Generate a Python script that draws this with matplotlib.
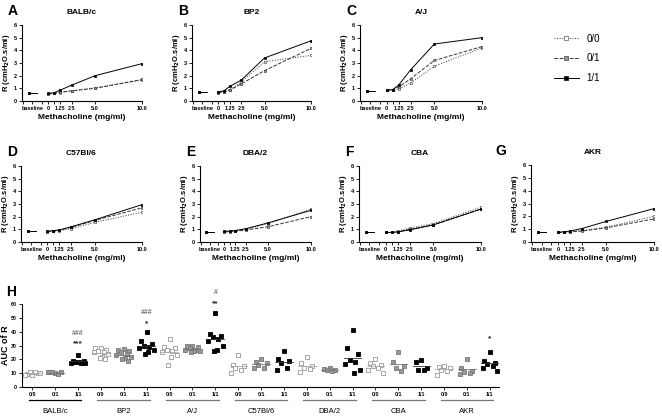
import matplotlib
matplotlib.use('Agg')
import matplotlib.pyplot as plt
import numpy as np

plt.rcParams['font.family'] = ['Liberation Sans', 'DejaVu Sans']
plt.rcParams['font.weight'] = 'bold'
plt.rcParams['axes.linewidth'] = 0.8

W, H = 662, 417

# dose-response data
doses = [0, 0.625, 1.25, 2.5, 5.0, 10.0]
dose_ticks = [0, 1.25, 2.5, 5.0, 10.0]
dose_labels = ['0', '1.25', '2.5', '5.0', '10.0']
strains = ['BALB/c', 'BP2', 'A/J', 'C57Bl/6', 'DBA/2', 'CBA', 'AKR']
letters = ['A', 'B', 'C', 'D', 'E', 'F', 'G']
groups = ['0/0', '0/1', '1/1']

baseline_r = [0.6, 0.7, 0.8, 0.85, 0.8, 0.8, 0.75]
r_00 = [[0.55, 0.6, 0.65, 0.8, 1.05, 1.65],
        [0.7, 0.75, 0.9, 1.5, 3.1, 3.6],
        [0.85, 0.85, 0.95, 1.4, 2.75, 4.2],
        [0.8, 0.85, 0.9, 1.05, 1.55, 2.35],
        [0.8, 0.85, 0.9, 1.0, 1.45, 2.6],
        [0.75, 0.8, 0.85, 1.1, 1.45, 2.75],
        [0.75, 0.75, 0.8, 0.9, 1.15, 2.0]]
r_01 = [[0.55, 0.6, 0.7, 0.8, 1.0, 1.7],
        [0.65, 0.7, 0.85, 1.35, 2.4, 4.15],
        [0.85, 0.9, 1.1, 1.75, 3.2, 4.3],
        [0.8, 0.85, 0.95, 1.15, 1.7, 2.7],
        [0.8, 0.8, 0.85, 0.95, 1.2, 2.0],
        [0.75, 0.75, 0.8, 1.0, 1.35, 2.6],
        [0.75, 0.75, 0.8, 0.85, 1.1, 1.8]]
r_11 = [[0.6, 0.65, 0.85, 1.25, 2.0, 2.95],
        [0.7, 0.8, 1.15, 1.65, 3.4, 4.75],
        [0.85, 0.9, 1.25, 2.45, 4.5, 5.0],
        [0.85, 0.9, 0.95, 1.2, 1.75, 2.95],
        [0.85, 0.85, 0.9, 1.05, 1.5, 2.5],
        [0.75, 0.75, 0.8, 0.95, 1.35, 2.6],
        [0.75, 0.8, 0.85, 1.05, 1.6, 2.6]]

# AUC data per strain
auc_00 = [[9, 9.5, 10, 10.5, 11, 9, 10],
          [28.5, 28, 27, 26, 25, 25, 24, 22, 21, 20.5],
          [34.5, 29, 28, 27, 26, 25, 23, 22, 16],
          [23, 16, 15, 14, 12, 10],
          [22, 17, 15, 14, 13, 11],
          [20, 17.5, 16, 15, 14, 12, 10],
          [15.5, 14.5, 13.5, 12.5, 11.5, 9]]
auc_01 = [[10, 10.5, 11, 11, 9.5, 10.5],
          [27.5, 27, 26, 25, 24, 23, 22, 21, 20, 19],
          [30, 30, 29, 28, 27, 27, 26, 26, 25.5],
          [20, 18, 17, 16, 14, 14],
          [13.5, 13, 12.5, 12, 11.5],
          [25.3, 18.2, 15, 13.4, 11.4],
          [20.4, 13.8, 11.4, 10.7, 10.2, 9.7]]
auc_11 = [[23, 19, 18.5, 18, 17.5, 17, 17.5, 18],
          [39.5, 33, 31, 30, 29, 28, 27, 25, 24],
          [53.5, 38, 37, 36, 35, 33, 30, 27, 26],
          [26, 20, 19, 17, 14, 12],
          [41, 28.5, 23.5, 19.5, 18, 16.5, 12.5, 10],
          [19.2, 18, 13.8, 12.6, 12.1],
          [25.3, 18.7, 17.5, 16.8, 15.5, 13.8, 11.4]]
stars = ['***', '*', '**', '', '', '', '*']
stars_y = [31, 46, 60.5, 0, 0, 0, 35]
hashes = ['###', '###', '#', '', '', '', '']
hashes_y = [39, 53.5, 68, 0, 0, 0, 0]

styles = [dict(ls=':', marker='s', mfc='white', mec='#555555', color='#333333'),
          dict(ls='--', marker='s', mfc='#999999', mec='#444444', color='#333333'),
          dict(ls='-', marker='s', mfc='black', mec='black', color='black')]


def px_axes(l, t, r, b):
    return [l / W, 1 - b / H, (r - l) / W, (b - t) / H]


fig = plt.figure(figsize=(W / 100, H / 100), dpi=100)

boxes = [(22, 25, 142, 101), (192, 25, 311, 101), (360, 25, 482, 101),
         (21, 166, 142, 242), (200, 166, 311, 242), (359, 166, 481, 242),
         (531, 165, 654, 242)]

legend_handles = None
for i, s in enumerate(strains):
    ax = fig.add_axes(px_axes(*boxes[i]))
    hs = []
    for g, data in enumerate([r_00, r_01, r_11]):
        st = styles[g]
        ax.plot([-2.1, -1.2], [baseline_r[i], baseline_r[i]], ls=st['ls'], color=st['color'],
                lw=0.7, marker='s', ms=2.0, mfc=st['mfc'], mec=st['mec'], markevery=[0], mew=0.5)
        h, = ax.plot(doses, data[i], ls=st['ls'], color=st['color'], lw=0.7, marker='s',
                     ms=2.0, mfc=st['mfc'], mec=st['mec'], mew=0.5)
        hs.append(h)
    if legend_handles is None:
        legend_handles = hs
    ax.set_xlim(-2.8, 10)
    ax.set_ylim(0, 6)
    ax.set_yticks(range(7))
    ax.set_xticks([-1.7] + dose_ticks)
    ax.set_xticklabels(['baseline'] + dose_labels)
    ax.set_xticks([-2.7, -0.7, 0.625], minor=True)
    ax.tick_params(labelsize=4, length=2, width=0.6, pad=1.5)
    ax.tick_params(which='minor', length=2, width=0.6)
    for sp in ['top', 'right']:
        ax.spines[sp].set_visible(False)
    ax.set_title(s, fontsize=6, fontweight='bold', pad=8)
    ax.set_xlabel('Methacholine (mg/ml)', fontsize=6, fontweight='bold', labelpad=2)
    ax.set_ylabel('R (cmH$_\\mathbf{2}$O.s/ml)', fontsize=5.5, fontweight='bold', labelpad=1.5)
    lx = boxes[i][0] - 14 if i < 6 else boxes[i][0] - 36
    fig.text(lx / W, 1 - (boxes[i][1] - 14) / H, letters[i], fontsize=10, fontweight='bold',
             va='center', ha='left')

fig.legend(legend_handles, groups, loc='upper left', bbox_to_anchor=(545 / W, 1 - 25 / H),
           frameon=False, handlelength=2.6, labelspacing=1.0, markerscale=1.4,
           prop={'weight': 'normal', 'size': 7})

# panel H
axh = fig.add_axes(px_axes(22, 304, 499, 387))
jitter = [0, -0.24, 0.24, -0.12, 0.12, -0.32, 0.32, 0.06, -0.06, 0.18]
face = ['white', '#999999', 'black']
edge = ['#999999', '#777777', 'black']
linec = ['#aaaaaa', '#777777', '#333333']
ticks, tick_labels = [], []
for i, s in enumerate(strains):
    for g, data in enumerate([auc_00, auc_01, auc_11]):
        pos = i * 3 + g
        vals = np.array(data[i])
        xs = pos + np.array(jitter[:len(vals)])
        axh.scatter(xs, vals, marker='s', s=12, facecolor=face[g], edgecolor=edge[g],
                    linewidths=0.6, zorder=3)
        m = vals.mean()
        axh.plot([pos - 0.38, pos + 0.38], [m, m], color=linec[g], lw=0.6, zorder=4)
        ticks.append(pos)
        tick_labels.append(groups[g])
    p = i * 3 + 2
    if stars[i]:
        axh.text(p, stars_y[i], stars[i], ha='center', va='center', fontsize=6,
                 color='#222222', clip_on=False)
    if hashes[i]:
        axh.text(p, hashes_y[i], hashes[i], ha='center', va='center', fontsize=5,
                 color='#777777', clip_on=False)
    trans = axh.get_xaxis_transform()
    axh.plot([i * 3 - 0.15, i * 3 + 2.15], [-0.157, -0.157], transform=trans,
             color='black' if i == 0 else '#777777', lw=0.9, clip_on=False)
    axh.text(i * 3 + 1, -0.29, s, transform=trans, ha='center', va='center',
             fontsize=5.5, fontweight='normal')

axh.set_xlim(-0.45, 20.4)
axh.set_ylim(0, 60)
axh.set_yticks(range(0, 61, 10))
axh.set_xticks(ticks)
axh.set_xticklabels(tick_labels)
axh.tick_params(labelsize=3.8, length=2, width=0.6, pad=1.5)
for sp in ['top', 'right']:
    axh.spines[sp].set_visible(False)
axh.set_ylabel('AUC of R', fontsize=6.5, fontweight='bold', labelpad=1)
fig.text(6 / W, 1 - 292 / H, 'H', fontsize=10, fontweight='bold', va='center', ha='left')

fig.savefig('out.png', dpi=100)
